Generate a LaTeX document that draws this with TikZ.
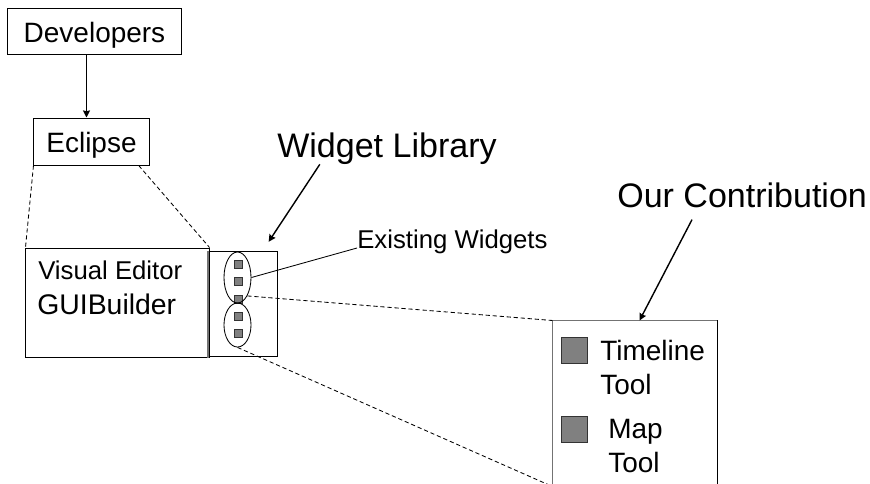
\documentclass[tikz,border=0pt]{standalone}
\usepackage{fontspec}
\setmainfont{Liberation Sans}
\usetikzlibrary{shapes.geometric,arrows.meta}

\begin{document}
\begin{tikzpicture}[x=0.025cm, y=-0.025cm]
    \tikzstyle{box} = [rectangle, draw=black, line width=0.7pt, text height=0.55cm,
        text depth=0pt, font=\fontsize{19.9}{24}\selectfont]
    \tikzstyle{panel} = [rectangle, draw=black, line width=0.7pt, inner sep=0pt]
    \tikzstyle{title} = [anchor=base west, inner sep=0pt, font=\fontsize{24.2}{29}\selectfont]
    \tikzstyle{caption} = [anchor=base west, inner sep=0pt, font=\fontsize{19.9}{24}\selectfont]
    \tikzstyle{small} = [anchor=base west, inner sep=0pt, font=\fontsize{18.3}{22}\selectfont]
    \tikzstyle{widget} = [rectangle, draw=black!80, fill=black!50, inner sep=0pt, minimum size=0.2cm]
    \tikzstyle{bigwidget} = [widget, line width=0.6pt, minimum size=0.65cm]
    \tikzstyle{group} = [ellipse, draw=black, line width=0.6pt, inner sep=0pt, minimum width=0.675cm]
    \tikzstyle{zoom} = [dash pattern=on 3pt off 2pt, line width=0.6pt]
    \tikzstyle{arrow} = [line width=1pt, ->, >={Stealth[length=5pt, width=5pt, inset=0.5pt]}]

    \clip (0,0) rectangle (870,483);
    \fill[white] (0,0) rectangle (870,483);

    \node (devs) [box, minimum width=4.325cm, minimum height=1.15cm] at (94.5,31) {Developers};
    \node (ecl) [box, minimum width=2.875cm, minimum height=1.175cm] at (91.5,141.5) {Eclipse};
    \draw [arrow] ([xshift=-0.2cm]devs.south) -- ([xshift=-0.2cm]devs.south |- ecl.north);

    % editor and the palette next to it
    \node (editor) [panel, minimum width=4.575cm, minimum height=2.725cm] at (117.5,302.5) {};
    \node (palette) [panel, line width=0.6pt, minimum width=1.75cm, minimum height=2.625cm] at (242,303.5) {};
    \draw [black!55, line width=2pt] ([xshift=0.035cm]palette.north west) -- ([xshift=0.035cm]palette.south west |- editor.south);
    \node (ve) [small] at (38,279) {Visual Editor};
    \node (gb) [caption, font=\fontsize{20.2}{24}\selectfont] at (37,314) {GUIBuilder};

    \draw [zoom] (ecl.south west) -- (editor.north west);
    \draw [zoom] ([xshift=-0.27cm]ecl.south east) -- (editor.north east);

    \foreach \i/\y in {1/264, 2/281, 3/299, 4/316, 5/333}
        \node (w\i) [widget] at (238,\y) {};
    \node (ellold) [group, minimum height=1.275cm] at (237.5,277.5) {};
    \node (ellnew) [group, minimum height=1.1cm] at (237.5,325) {};

    \node (wlib) [title] at (277,157) {Widget Library};
    \draw [arrow] ([xshift=1.07cm]wlib.south west) -- ([xshift=-0.22cm, yshift=0.22cm]palette.north east);

    \node (exist) [small] at (357,248) {Existing Widgets};
    \draw [line width=0.6pt] (ellold.east) -- (exist.base west);

    % new widgets
    \node (cbox) [panel, draw=black!55, minimum width=4.1cm, minimum height=4.125cm] at (635,403.5) {};
    \draw [line width=0.7pt] (cbox.north east) -- (cbox.south east);
    \node (tsq) [bigwidget] at (574,350.5) {};
    \node (msq) [bigwidget] at (574,429) {};
    \node (tl1) [caption] at (600,360) {Timeline};
    \node (tl2) [caption] at (600,394) {Tool};
    \node (mp1) [caption] at (608,438) {Map};
    \node (mp2) [caption] at (608,472) {Tool};

    \node (contr) [title] at (617,207) {Our Contribution};
    \draw [arrow] ([xshift=1.875cm, yshift=-0.3cm]contr.south west) -- ([xshift=2.175cm]cbox.north west);

    \draw [zoom] (ellold.-62) -- (cbox.north west);
    \draw [zoom] (ellnew.south) -- (cbox.south west);
\end{tikzpicture}
\end{document}
